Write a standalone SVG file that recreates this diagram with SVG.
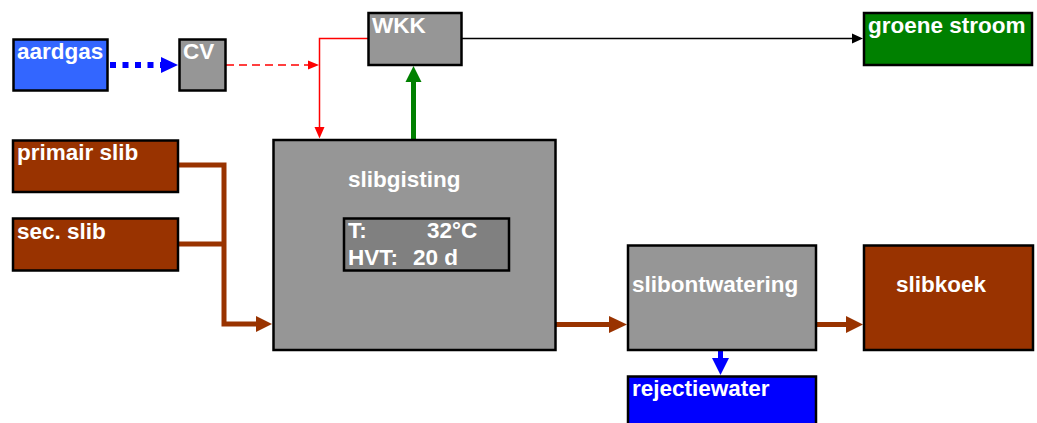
<svg xmlns="http://www.w3.org/2000/svg" width="1037" height="423" viewBox="0 0 1037 423">
<style>
.box{stroke:#000;stroke-width:2.5}
.t{font-family:"Liberation Sans",Arial,sans-serif;font-weight:bold;font-size:22.5px;fill:#fff}
.gray{fill:#969696}
.brown{fill:#993300}
</style>
<rect width="1037" height="423" fill="#fff"/>
<g id="connectors">
  <line x1="110" y1="65" x2="162" y2="65" stroke="#0000ff" stroke-width="6" stroke-dasharray="6 6.5"/>
  <polygon points="161,57 178,65 161,73" fill="#0000ff"/>
  <line x1="226" y1="65" x2="309" y2="65" stroke="#ff0000" stroke-width="1.5" stroke-dasharray="8 5"/>
  <polygon points="308,60.5 319,65 308,69.5" fill="#ff0000"/>
  <polyline points="368,38.5 319.5,38.5 319.5,128" fill="none" stroke="#ff0000" stroke-width="1.5"/>
  <polygon points="314.5,127 324.5,127 319.5,138.5" fill="#ff0000"/>
  <line x1="413.5" y1="139" x2="413.5" y2="81" stroke="#008000" stroke-width="5"/>
  <polygon points="405.5,82 413.5,66 421.5,82" fill="#008000"/>
  <line x1="462" y1="38.5" x2="853" y2="38.5" stroke="#000" stroke-width="1.3"/>
  <polygon points="852,33.5 863,38.5 852,43.5" fill="#000"/>
  <polyline points="178,165 224,165 224,324 257,324" fill="none" stroke="#993300" stroke-width="5"/>
  <line x1="178" y1="244" x2="224" y2="244" stroke="#993300" stroke-width="5"/>
  <polygon points="256,316 272,324 256,332" fill="#993300"/>
  <line x1="556" y1="324.5" x2="610" y2="324.5" stroke="#993300" stroke-width="5"/>
  <polygon points="609,316 627,324.5 609,333" fill="#993300"/>
  <line x1="816" y1="324.5" x2="847" y2="324.5" stroke="#993300" stroke-width="5"/>
  <polygon points="846,316 863,324.5 846,333" fill="#993300"/>
  <line x1="720.5" y1="351" x2="720.5" y2="359" stroke="#0000ff" stroke-width="5"/>
  <polygon points="712,358 720.5,375 729,358" fill="#0000ff"/>
</g>
<g id="aardgas"><rect class="box" x="13.5" y="39.5" width="94" height="51" fill="#3366ff"/><text class="t" x="17" y="59">aardgas</text></g>
<g id="cv"><rect class="box gray" x="179.5" y="39.5" width="46" height="51"/><text class="t" x="183" y="59">CV</text></g>
<g id="wkk"><rect class="box gray" x="368.5" y="13" width="93" height="52"/><text class="t" x="372" y="33">WKK</text></g>
<g id="groene-stroom"><rect class="box" x="864" y="13" width="168" height="52" fill="#008000"/><text class="t" x="868" y="33">groene stroom</text></g>
<g id="primair-slib"><rect class="box brown" x="13" y="140.5" width="165" height="51.5"/><text class="t" x="17" y="160">primair slib</text></g>
<g id="sec-slib"><rect class="box brown" x="13" y="218.5" width="165" height="52"/><text class="t" x="17" y="239">sec. slib</text></g>
<g id="slibgisting"><rect class="box gray" x="273.5" y="140" width="282" height="210"/><text class="t" x="348" y="187">slibgisting</text>
  <rect class="box" x="344" y="218.5" width="165" height="52" fill="#808080"/>
  <text class="t" x="348" y="238">T:</text><text class="t" x="427" y="238">32°C</text>
  <text class="t" x="348" y="265">HVT:</text><text class="t" x="413" y="265">20 d</text>
</g>
<g id="slibontwatering"><rect class="box gray" x="628" y="245.5" width="188" height="104.5"/><text class="t" x="632" y="292">slibontwatering</text></g>
<g id="slibkoek"><rect class="box brown" x="864" y="245.5" width="169" height="104.5"/><text class="t" x="896" y="292">slibkoek</text></g>
<g id="rejectiewater"><rect class="box" x="628" y="376.5" width="188" height="60" fill="#0000ff"/><text class="t" x="632" y="396">rejectiewater</text></g>
</svg>
